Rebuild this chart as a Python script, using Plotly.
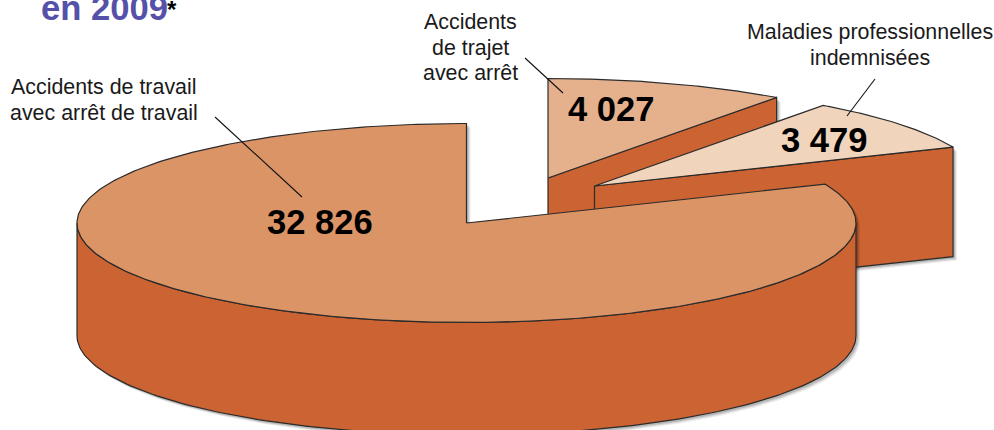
import numpy as np
import plotly.graph_objects as go

# Data
categories = ["Accidents de travail<br>avec arrêt de travail",
              "Accidents<br>de trajet<br>avec arrêt",
              "Maladies professionnelles<br>indemnisées"]
values = [32826, 4027, 3479]
value_labels = ["32 826", "4 027", "3 479"]
title_text = "en 2009"

# Style / geometry (pixel-like axis units)
RX, RY = 389.5, 99.5
DEPTH = 112.5
SIDE = "#CC6332"
TOPS = ["#DB9466", "#E5B18C", "#F0D4BC"]
EDGE = "#2b2b2b"
APEX = [(466.5, 223), (548, 178), (594.5, 186)]
TXT = "Liberation Sans, Arial, sans-serif"

total = sum(values)
sweep = [v / total * 360 for v in values]
# Big slice runs counter-clockwise from 12 o'clock; the others run clockwise from 12 o'clock
end_big = 90 + sweep[0]
ranges = [
    (90, end_big),
    (90 - sweep[1], 90),
    (90 - sweep[1] - sweep[2], 90 - sweep[1]),
]


def arc(cx, cy, a0, a1, n=160):
    t = np.radians(np.linspace(a0, a1, n))
    return cx + RX * np.cos(t), cy - RY * np.sin(t)


def poly(x, y, fill, line=EDGE, width=1.2):
    return go.Scatter(x=list(x), y=list(y), mode="lines", fill="toself", fillcolor=fill,
                      line=dict(color=line, width=width), hoverinfo="skip", showlegend=False)


def shadow(x, y):
    out = []
    for off, alpha in ((4, 0.07), (3, 0.10), (2, 0.14)):
        out.append(go.Scatter(x=list(np.asarray(x) + off), y=list(np.asarray(y) + off),
                              mode="lines", fill="toself", fillcolor=f"rgba(0,0,0,{alpha})",
                              line=dict(width=0), hoverinfo="skip", showlegend=False))
    return out


fig = go.Figure()

# Slice 2: trajet
cx, cy = APEX[1]
a0, a1 = ranges[1]
ax, ay = arc(cx, cy, a0, a1)
wx = [cx, ax[0], ax[0], cx, cx]
wy = [cy, ay[0], ay[0] + DEPTH, cy + DEPTH, cy]
tx, ty = np.r_[cx, ax, cx], np.r_[cy, ay, cy]
for tr in shadow(np.r_[wx], np.r_[wy]):
    fig.add_trace(tr)
fig.add_trace(poly(wx, wy, SIDE))
fig.add_trace(poly(tx, ty, TOPS[1]))

# Slice 3: maladies
cx, cy = APEX[2]
a0, a1 = ranges[2]
ax, ay = arc(cx, cy, a0, a1)
wx = [cx, ax[0], ax[0], cx, cx]
wy = [cy, ay[0], ay[0] + DEPTH - 3, cy + DEPTH - 3, cy]
tx, ty = np.r_[cx, ax, cx], np.r_[cy, ay, cy]
for tr in shadow(wx, wy):
    fig.add_trace(tr)
fig.add_trace(poly(wx, wy, SIDE))
fig.add_trace(poly(tx, ty, TOPS[2]))

# Slice 1: travail, drawn last as it sits in front
cx, cy = APEX[0]
a0, a1 = ranges[0]
fx, fy = arc(cx, cy, 180, 360)
wx = np.r_[fx, fx[::-1], fx[0]]
wy = np.r_[fy, fy[::-1] + DEPTH, fy[0]]
ax, ay = arc(cx, cy, a0, a1, 400)
tx, ty = np.r_[cx, ax, cx], np.r_[cy, ay, cy]
for tr in shadow(wx, wy):
    fig.add_trace(tr)
for tr in shadow(tx, ty):
    fig.add_trace(tr)
fig.add_trace(poly(wx, wy, SIDE))
fig.add_trace(poly(tx, ty, TOPS[0]))

# Leader lines
leaders = [((215, 117), (302, 197)), ((525, 58), (563, 93)), ((875, 79), (847, 116))]
shapes = [dict(type="line", x0=a[0], y0=a[1], x1=b[0], y1=b[1], xref="x", yref="y",
               line=dict(color="#111111", width=1.1), layer="above") for a, b in leaders]

# Texts: each label line is placed on its own to keep the tighter leading of the original
annos = []
LEADING = 25.7
for txt, (x, y) in zip(categories, [(103.5, 100), (470.5, 47.5), (870, 45)]):
    lines = txt.split("<br>")
    for i, line in enumerate(lines):
        annos.append(dict(x=x, y=y + (i - (len(lines) - 1) / 2) * LEADING, text=line,
                          showarrow=False, xanchor="center", yanchor="middle",
                          font=dict(family=TXT, size=21.4, color="#1a1a1a"), align="center"))
for txt, (x, y) in zip(value_labels, [(320, 222), (611, 109), (824, 140)]):
    annos.append(dict(x=x, y=y, text=f"<b>{txt}</b>", showarrow=False, xanchor="center",
                      yanchor="middle", font=dict(family=TXT, size=34.6, color="#000000")))
annos.append(dict(x=38.5, y=8, text=f"<b>{title_text}</b>", showarrow=False, xanchor="left",
                  yanchor="middle", font=dict(family=TXT, size=34.6, color="#5551A9")))
annos.append(dict(x=165, y=9, text="<b>*</b>", showarrow=False, xanchor="left", yanchor="middle",
                  font=dict(family=TXT, size=24, color="#000000")))

fig.update_layout(
    width=994, height=430, margin=dict(l=0, r=0, t=0, b=0),
    paper_bgcolor="white", plot_bgcolor="white", showlegend=False,
    xaxis=dict(range=[0, 994], visible=False, fixedrange=True),
    yaxis=dict(range=[430, 0], visible=False, fixedrange=True),
    shapes=shapes, annotations=annos,
)
fig.write_html("out.html", config={"displayModeBar": False},
               post_script="document.body.style.margin='0';document.body.style.overflow='hidden';")
